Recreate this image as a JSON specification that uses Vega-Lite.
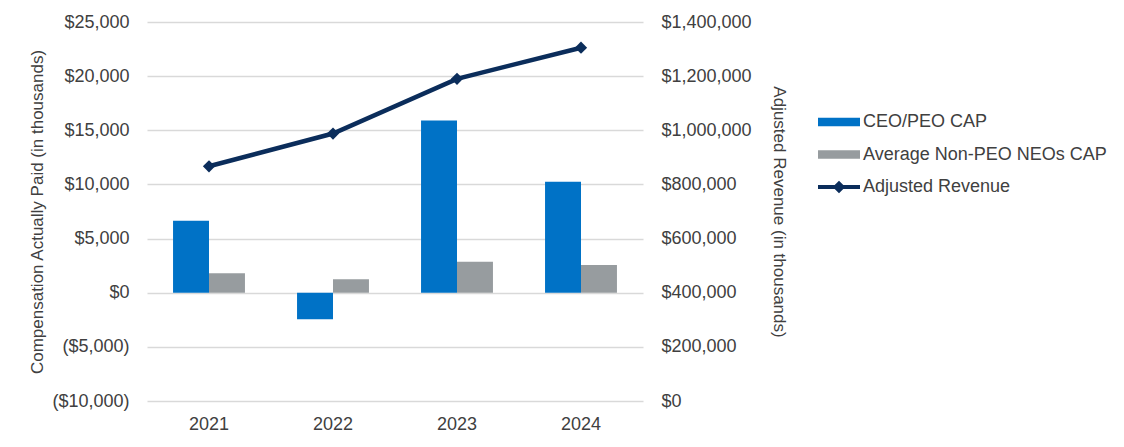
{
  "$schema": "https://vega.github.io/schema/vega-lite/v6.json",
  "width": 496,
  "height": 379,
  "autosize": {"type": "none"},
  "padding": {"left": 147, "top": 22, "right": 481, "bottom": 46},
  "background": "white",
  "config": {
    "font": "Liberation Sans",
    "view": {"stroke": null},
    "axis": {"labelFont": "Liberation Sans", "titleFont": "Liberation Sans", "labelColor": "#404040", "titleColor": "#404040", "labelFontSize": 18, "titleFontSize": 17, "titleFontWeight": "normal", "domain": false, "ticks": false},
    "legend": {"labelFont": "Liberation Sans", "labelFontSize": 18, "labelColor": "#404040"}
  },
  "data": {
    "values": [
      {"year": "2021", "series": "CEO/PEO CAP", "value": 6650},
      {"year": "2021", "series": "Average Non-PEO NEOs CAP", "value": 1800},
      {"year": "2022", "series": "CEO/PEO CAP", "value": -2450},
      {"year": "2022", "series": "Average Non-PEO NEOs CAP", "value": 1250},
      {"year": "2023", "series": "CEO/PEO CAP", "value": 15900},
      {"year": "2023", "series": "Average Non-PEO NEOs CAP", "value": 2850},
      {"year": "2024", "series": "CEO/PEO CAP", "value": 10250},
      {"year": "2024", "series": "Average Non-PEO NEOs CAP", "value": 2550},
      {"year": "2021", "series": "Adjusted Revenue", "value": 867000},
      {"year": "2022", "series": "Adjusted Revenue", "value": 988000},
      {"year": "2023", "series": "Adjusted Revenue", "value": 1190000},
      {"year": "2024", "series": "Adjusted Revenue", "value": 1305000}
    ]
  },
  "encoding": {
    "x": {
      "field": "year", "type": "nominal",
      "scale": {"paddingInner": 0.42, "paddingOuter": 0.21},
      "axis": {"title": null, "labelAngle": 0, "labelPadding": 14, "grid": false}
    },
    "color": {
      "field": "series", "type": "nominal",
      "scale": {"domain": ["CEO/PEO CAP", "Average Non-PEO NEOs CAP", "Adjusted Revenue"], "range": ["#0072C6", "#979C9F", "#0B2D5B"]},
      "legend": {
        "title": null, "orient": "none", "legendX": 671, "legendY": 79,
        "symbolSize": 1764, "rowPadding": 2.5, "labelOffset": 3, "padding": 0, "labelLimit": 0,
        "encode": {
          "symbols": {
            "update": {
              "shape": {"signal": "datum.value === 'Adjusted Revenue' ? 'M-1,-0.1H1V0.1H-1Z M0,-0.3L0.3,0L0,0.3L-0.3,0Z' : 'M-1,-0.2H1V0.2H-1Z'"},
              "fill": {"scale": "color", "field": "value"},
              "fillOpacity": {"value": 1},
              "strokeWidth": {"value": 0},
              "opacity": {"value": 1}
            }
          }
        }
      }
    }
  },
  "layer": [
    {
      "transform": [{"filter": "datum.series !== 'Adjusted Revenue'"}],
      "mark": {"type": "bar"},
      "encoding": {
        "xOffset": {"field": "series", "type": "nominal", "scale": {"domain": ["CEO/PEO CAP", "Average Non-PEO NEOs CAP"], "paddingInner": 0, "paddingOuter": 0}},
        "y": {
          "field": "value", "type": "quantitative",
          "scale": {"domain": [-10000, 25000], "nice": false, "zero": false},
          "axis": {
            "title": "Compensation Actually Paid (in thousands)",
            "values": [-10000, -5000, 0, 5000, 10000, 15000, 20000, 25000],
            "labelExpr": "datum.value < 0 ? '($' + format(-datum.value, ',') + ')' : '$' + format(datum.value, ',')",
            "labelPadding": 18, "titlePadding": 5,
            "grid": true, "gridColor": "#D9D9D9", "gridWidth": 1.5
          }
        }
      }
    },
    {
      "transform": [{"filter": "datum.series === 'Adjusted Revenue'"}],
      "encoding": {
        "y": {
          "field": "value", "type": "quantitative",
          "scale": {"domain": [0, 1400000], "nice": false},
          "axis": {
            "orient": "right",
            "title": "Adjusted Revenue (in thousands)",
            "values": [0, 200000, 400000, 600000, 800000, 1000000, 1200000, 1400000],
            "labelExpr": "'$' + format(datum.value, ',')",
            "labelPadding": 18, "titlePadding": 18, "grid": false
          }
        }
      },
      "layer": [
        {"mark": {"type": "line", "strokeWidth": 4.5}},
        {"mark": {"type": "point", "shape": "diamond", "filled": true, "size": 150, "opacity": 1}}
      ]
    }
  ],
  "resolve": {"scale": {"y": "independent"}}
}
